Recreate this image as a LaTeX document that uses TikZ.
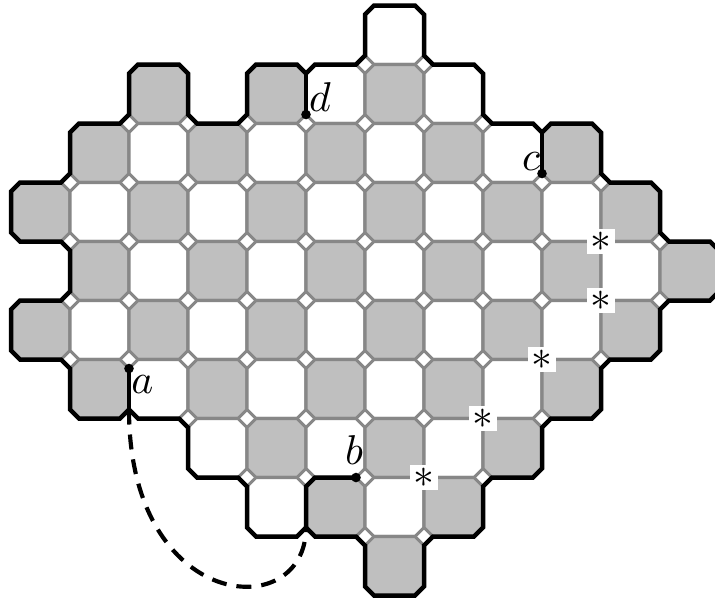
\documentclass[tikz,border=0pt]{standalone}
\definecolor{cellgray}{gray}{0.75}
\definecolor{edgegray}{gray}{0.53}
\tikzset{
  cellline/.style={draw=edgegray,line width=0.74pt,line join=miter},
  outline/.style={draw=black,line width=1.08pt,line join=miter},
  dotmark/.style={circle,fill=black,inner sep=0pt,minimum size=2.3pt},
  starmark/.style={fill=white,inner sep=0pt,minimum width=6.5pt,minimum height=6pt},
  lab/.style={inner sep=0pt}
}
\newcommand{\starglyph}{\raisebox{-0.3pt}{$*$}}
\begin{document}
\begin{tikzpicture}[x=0.24pt,y=-0.24pt]
\useasboundingbox (0,0) rectangle (715,599);
\clip (0,0) rectangle (715,599);
\foreach \j/\cols in {0/{6},1/{2,4,5,6,7},2/{1,...,9},3/{0,...,10},4/{1,...,11},5/{0,...,10},6/{1,...,9},7/{3,...,8},8/{4,...,7},9/{6}}{
  \foreach \i in \cols {
    \pgfmathsetmacro{\xa}{11+59*\i}
    \pgfmathsetmacro{\ya}{5.5+59*\j}
    \pgfmathsetmacro{\xb}{\xa+59}
    \pgfmathsetmacro{\yb}{\ya+59}
    \pgfmathtruncatemacro{\parity}{mod(\i+\j,2)}
    \ifnum\parity=1 \def\cellfill{cellgray}\else\def\cellfill{white}\fi
    \path[cellline,fill=\cellfill] (\xa+9,\ya) -- (\xb-9,\ya) -- (\xb,\ya+9) -- (\xb,\yb-9) -- (\xb-9,\yb) -- (\xa+9,\yb) -- (\xa,\yb-9) -- (\xa,\ya+9) -- cycle;
  }
}
\draw[outline] (374,5.5) -- (415,5.5) -- (424,14.5) -- (424,55.5) -- (433,64.5) -- (474,64.5) -- (483,73.5) -- (483,114.5) -- (492,123.5) -- (533,123.5) -- (542,132.5) -- (551,123.5) -- (592,123.5) -- (601,132.5) -- (601,173.5) -- (610,182.5) -- (651,182.5) -- (660,191.5) -- (660,232.5) -- (669,241.5) -- (710,241.5) -- (719,250.5) -- (719,291.5) -- (710,300.5) -- (669,300.5) -- (660,309.5) -- (660,350.5) -- (651,359.5) -- (610,359.5) -- (601,368.5) -- (601,409.5) -- (592,418.5) -- (551,418.5) -- (542,427.5) -- (542,468.5) -- (533,477.5) -- (492,477.5) -- (483,486.5) -- (483,527.5) -- (474,536.5) -- (433,536.5) -- (424,545.5) -- (424,586.5) -- (415,595.5) -- (374,595.5) -- (365,586.5) -- (365,545.5) -- (356,536.5) -- (315,536.5) -- (306,527.5) -- (297,536.5) -- (256,536.5) -- (247,527.5) -- (247,486.5) -- (238,477.5) -- (197,477.5) -- (188,468.5) -- (188,427.5) -- (179,418.5) -- (138,418.5) -- (129,409.5) -- (120,418.5) -- (79,418.5) -- (70,409.5) -- (70,368.5) -- (61,359.5) -- (20,359.5) -- (11,350.5) -- (11,309.5) -- (20,300.5) -- (61,300.5) -- (70,291.5) -- (70,250.5) -- (61,241.5) -- (20,241.5) -- (11,232.5) -- (11,191.5) -- (20,182.5) -- (61,182.5) -- (70,173.5) -- (70,132.5) -- (79,123.5) -- (120,123.5) -- (129,114.5) -- (129,73.5) -- (138,64.5) -- (179,64.5) -- (188,73.5) -- (188,114.5) -- (197,123.5) -- (238,123.5) -- (247,114.5) -- (247,73.5) -- (256,64.5) -- (297,64.5) -- (306,73.5) -- (315,64.5) -- (356,64.5) -- (365,55.5) -- (365,14.5) -- cycle;
% slits ending in dots
\coordinate (va) at (129,409.5);
\coordinate (vb) at (306,527.5);
\coordinate (vc) at (542,132.5);
\coordinate (vd) at (306,73.5);
\node[dotmark] (pa) at (129,368.5) {};
\node[dotmark] (pb) at (356,477.5) {};
\node[dotmark] (pc) at (542,173.5) {};
\node[dotmark] (pd) at (306,114.5) {};
\draw[outline] (pa.center) -- (va);
\draw[outline] (pc.center) -- (vc);
\draw[outline] (pd.center) -- (vd);
\draw[outline] (pb.center) -- (315,477.5) -- (306,486.5) -- (vb);
\draw[draw=black,line width=1.0pt,dash pattern=on 3.6pt off 2.4pt] (va) .. controls (129,613) and (306,625) .. (vb);
\node[lab] (la) at (142.5,385) {$a$};
\node[lab] (lb) at (354,450.5) {$b$};
\node[lab] (lc) at (531,161.5) {$c$};
\node[lab] (ld) at (320,97) {$d$};
\node[starmark] (s1) at (601,241.5) {\starglyph};
\node[starmark] (s2) at (601,300.5) {\starglyph};
\node[starmark] (s3) at (542,359.5) {\starglyph};
\node[starmark] (s4) at (483,418.5) {\starglyph};
\node[starmark] (s5) at (424,477.5) {\starglyph};
\end{tikzpicture}
\end{document}
